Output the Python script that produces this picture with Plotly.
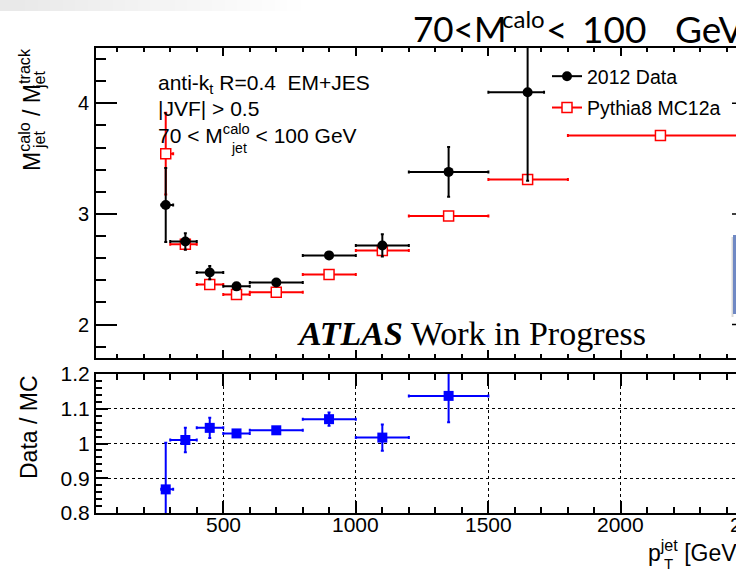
import plotly.graph_objects as go

# ---------------- data ----------------
pt_center = [283, 357, 449, 550, 700, 899, 1100, 1350, 1648, 2149]
mc_bin_lo = [266, 300, 400, 500, 600, 800, 1000, 1200, 1500, 1800]
mc_bin_hi = [311, 400, 500, 600, 800, 1000, 1200, 1500, 1800, 2500]

data_x = [283, 357, 449, 550, 700, 899, 1100, 1350, 1648]
data_bin_lo = [266, 300, 400, 500, 600, 800, 1000, 1200, 1500]
data_bin_hi = [311, 400, 500, 600, 800, 1000, 1200, 1500, 1710]
data_y = [3.08, 2.75, 2.47, 2.345, 2.38, 2.625, 2.715, 3.38, 4.10]
data_err = [0.335, 0.075, 0.06, 0.02, 0.02, 0.03, 0.10, 0.225, 0.80]

mc_y = [3.545, 2.725, 2.362, 2.272, 2.292, 2.452, 2.67, 2.98, 3.312, 3.71]
mc_err = [0.37, 0.045, 0.02, 0.02, 0.015, 0.015, 0.02, 0.01, 0.01, 0.01]

ratio_x = [283, 357, 449, 550, 700, 899, 1100, 1350]
ratio_bin_lo = [266, 300, 400, 500, 600, 800, 1000, 1200]
ratio_bin_hi = [311, 400, 500, 600, 800, 1000, 1200, 1500]
ratio_y = [0.868, 1.010, 1.045, 1.029, 1.038, 1.070, 1.017, 1.137]
ratio_err = [0.134, 0.035, 0.029, 0.006, 0.006, 0.019, 0.038, 0.076]

x_range = [20, 2434]
x_tick_labels = [500, 1000, 1500, 2000, 2500]
top_y_range = [1.7, 4.5]
ratio_y_range = [0.8, 1.2]
top_y_ticks = [2, 3, 4]

legend_names = ["2012 Data", "Pythia8 MC12a"]

# ---------------- geometry helpers ----------------
W, H = 736, 570
ML, MR, MT, MB = 96, 0, 48, 57
PW, PH = W - ML - MR, H - MT - MB


def px(x):
    return (x - ML) / PW


def py(y):
    return (H - MB - y) / PH


def xdata_to_paper(v):
    return (v - x_range[0]) / (x_range[1] - x_range[0])


SANS = "Liberation Sans, Arial, sans-serif"
SERIF = "Liberation Serif, Times New Roman, serif"
TITLEFONT = "Lato, sans-serif"
RED = "#ff0000"
BLUE = "#0000ff"

fig = go.Figure()

# MC (red open squares)
fig.add_trace(go.Scatter(
    x=pt_center, y=mc_y, mode="markers", xaxis="x", yaxis="y", showlegend=False,
    marker=dict(symbol="square", size=10, color="white", line=dict(color=RED, width=1.5)),
    error_x=dict(type="data", symmetric=False,
                 array=[h - c for h, c in zip(mc_bin_hi, pt_center)],
                 arrayminus=[c - l for c, l in zip(pt_center, mc_bin_lo)],
                 color=RED, thickness=2, width=1.5),
    error_y=dict(type="data", array=mc_err, color=RED, thickness=2, width=1.5),
))

# Data (black filled circles)
fig.add_trace(go.Scatter(
    x=data_x, y=data_y, mode="markers", xaxis="x", yaxis="y", showlegend=False,
    marker=dict(symbol="circle", size=10, color="black"),
    error_x=dict(type="data", symmetric=False,
                 array=[h - c for h, c in zip(data_bin_hi, data_x)],
                 arrayminus=[c - l for c, l in zip(data_x, data_bin_lo)],
                 color="black", thickness=2, width=1.5),
    error_y=dict(type="data", array=data_err, color="black", thickness=2, width=1.5),
))

# Ratio (blue squares)
fig.add_trace(go.Scatter(
    x=ratio_x, y=ratio_y, mode="markers", xaxis="x2", yaxis="y2", showlegend=False,
    marker=dict(symbol="square", size=10, color=BLUE),
    error_x=dict(type="data", symmetric=False,
                 array=[h - c for h, c in zip(ratio_bin_hi, ratio_x)],
                 arrayminus=[c - l for c, l in zip(ratio_x, ratio_bin_lo)],
                 color=BLUE, thickness=2, width=1.5),
    error_y=dict(type="data", array=ratio_err, color=BLUE, thickness=2, width=1.5),
))

# legend-only traces
fig.add_trace(go.Scatter(
    x=[None], y=[None], mode="lines+markers", name=legend_names[0], xaxis="x", yaxis="y",
    line=dict(color="black", width=2), marker=dict(symbol="circle", size=10, color="black"),
    legendgroup="a"))
fig.add_trace(go.Scatter(
    x=[None], y=[None], mode="lines+markers", name=legend_names[1], xaxis="x", yaxis="y",
    line=dict(color=RED, width=2),
    marker=dict(symbol="square", size=10, color="white", line=dict(color=RED, width=1.5)),
    legendgroup="b"))

axis_common = dict(showline=True, linecolor="black", linewidth=2, zeroline=False,
                   tickcolor="black", tickwidth=1.5, ticks="inside")

fig.update_layout(
    width=W, height=H,
    margin=dict(l=ML, r=MR, t=MT, b=MB),
    paper_bgcolor="white", plot_bgcolor="white",
    font=dict(family=SANS, color="black"),
    xaxis=dict(domain=[0, 1], anchor="y", range=x_range, showticklabels=False,
               tick0=0, dtick=500, ticklen=8, mirror="allticks", showgrid=False,
               minor=dict(dtick=100, ticklen=4, ticks="inside", tickcolor="black", tickwidth=1.5),
               **axis_common),
    yaxis=dict(domain=[py(357.7), 1], anchor="x", range=top_y_range,
               tickvals=top_y_ticks, ticklen=21, showgrid=False, mirror=False,
               tickfont=dict(size=20), ticklabelstandoff=1,
               minor=dict(dtick=0.2, ticklen=10, ticks="inside", tickcolor="black", tickwidth=1.5),
               **axis_common),
    xaxis2=dict(domain=[0, 1], anchor="y2", range=x_range, tick0=0, dtick=500,
                showticklabels=False, ticklen=12, mirror="allticks",
                showgrid=True, gridcolor="black", gridwidth=1, griddash="dot",
                minor=dict(dtick=100, ticklen=6, ticks="inside", tickcolor="black", tickwidth=1.5),
                **axis_common),
    yaxis2=dict(domain=[0, py(374)], anchor="x2", range=ratio_y_range, dtick=0.1,
                ticklen=12, mirror=False, tickfont=dict(size=21), ticklabelstandoff=0,
                showgrid=True, gridcolor="black", gridwidth=1, griddash="dot",
                minor=dict(dtick=0.02, ticklen=6, ticks="inside", tickcolor="black", tickwidth=1.5),
                **axis_common),
    legend=dict(x=px(547), y=py(57), xanchor="left", yanchor="top",
                bgcolor="rgba(0,0,0,0)", font=dict(size=19.5, family=SANS),
                tracegroupgap=3, itemwidth=30),
)

shapes = []
# slide background gradient band at the very top
n_steps = 24
for i in range(n_steps):
    frac = i / n_steps
    g = int(233 + (255 - 233) * frac)
    shapes.append(dict(type="rect", xref="paper", yref="paper",
                       x0=px(0 + 300 * frac), x1=px(300 * (i + 1) / n_steps + 1),
                       y0=py(11), y1=py(0), line=dict(width=0),
                       fillcolor=f"rgb({g},{g},{g})", layer="below"))
# right-side major y ticks (the frame itself is beyond the picture)
for v in top_y_ticks:
    shapes.append(dict(type="line", xref="paper", yref="y", x0=px(732), x1=1.0,
                       y0=v, y1=v, line=dict(color="black", width=1.5)))
# bluish slide box at far right
shapes.append(dict(type="rect", xref="paper", yref="paper", x0=px(731.5), x1=px(733.5),
                   y0=py(317), y1=py(237), line=dict(width=0), fillcolor="#d8d8d8"))
shapes.append(dict(type="rect", xref="paper", yref="paper", x0=px(733), x1=px(737),
                   y0=py(314), y1=py(235), line=dict(width=0), fillcolor="#7089c4"))
fig.update_layout(shapes=shapes)

ann = []


def add_text(text, x, y, size, family=SANS, xanchor="left", yanchor="middle", angle=0, color="black"):
    ann.append(dict(text=text, x=px(x), y=py(y), xref="paper", yref="paper",
                    xanchor=xanchor, yanchor=yanchor, showarrow=False, textangle=angle,
                    font=dict(size=size, family=family, color=color)))


# x tick labels of the ratio panel (the last one is cut by the picture edge)
for v in x_tick_labels:
    ann.append(dict(text=str(v), x=xdata_to_paper(v), y=py(524), xref="paper", yref="paper",
                    xanchor="center", yanchor="middle", showarrow=False,
                    font=dict(size=21, family=SANS, color="black")))

# title (cut at the right edge like the slide)
add_text("70&lt;M", 411, 28, 35, family=TITLEFONT)
add_text("calo", 500, 18, 24, family=TITLEFONT)
add_text("&lt;", 544, 28, 37, family=TITLEFONT)
add_text("100", 580, 28, 37, family=TITLEFONT)
add_text("GeV", 673, 28, 37, family=TITLEFONT)

# info text
add_text("anti-k<sub>t</sub> R=0.4&nbsp;&nbsp;EM+JES", 156, 84, 21)
add_text("|JVF| &gt; 0.5", 156, 108.5, 21)
add_text("70 &lt; M<sup>calo</sup> &lt; 100 GeV", 156, 134, 21)
add_text("jet", 229, 148, 14)

# ATLAS label
add_text("<b><i>ATLAS</i></b> Work in Progress", 295, 333, 34, family=SERIF)

# y title top: M^calo_jet / M^track_jet
add_text("M<sup>calo</sup> / M<sup>track</sup>", 30, 110, 23, xanchor="center", angle=-90)
add_text("jet", 39, 140, 16, xanchor="center", angle=-90)
add_text("jet", 39, 80, 16, xanchor="center", angle=-90)

# y title ratio
add_text("Data / MC", 29, 427, 23, xanchor="center", angle=-90)

# x title
add_text("p<sup>jet</sup> [GeV]", 646, 551, 23)
add_text("T", 662, 563, 15)

fig.update_layout(annotations=ann)

fig.write_html("out.html")
